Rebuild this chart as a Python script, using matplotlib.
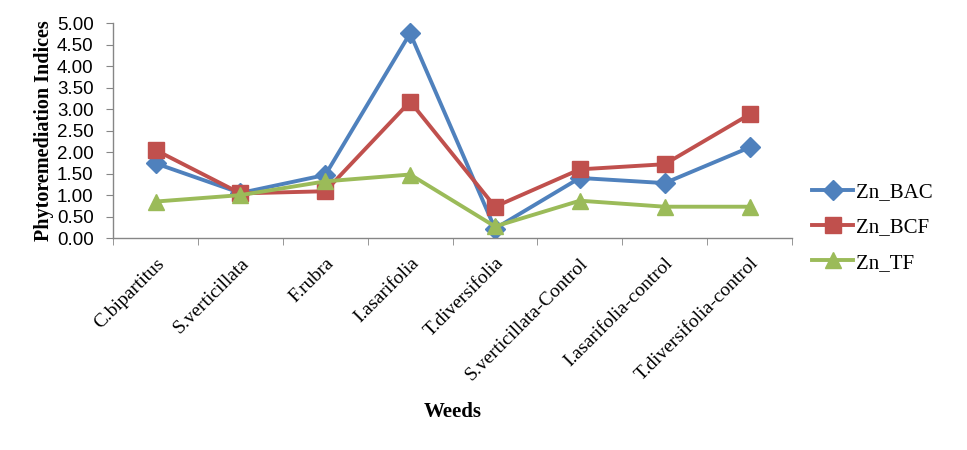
import matplotlib
matplotlib.use("Agg")
import matplotlib.pyplot as plt
from matplotlib.ticker import FixedLocator, NullFormatter
import numpy as np

categories = ["C.bipartitus", "S.verticillata", "F.rubra", "I.asarifolia",
              "T.diversifolia", "S.verticillata-Control", "I.asarifolia-control",
              "T.diversifolia-control"]
zn_bac = [1.74, 1.05, 1.47, 4.77, 0.22, 1.40, 1.28, 2.11]
zn_bcf = [2.05, 1.04, 1.09, 3.18, 0.73, 1.60, 1.72, 2.88]
zn_tf = [0.85, 1.00, 1.32, 1.48, 0.27, 0.87, 0.73, 0.73]
y_ticks = [0.0, 0.5, 1.0, 1.5, 2.0, 2.5, 3.0, 3.5, 4.0, 4.5, 5.0]

fig = plt.figure(figsize=(9.67, 4.5), dpi=100)
ax = fig.add_axes([0.117, 0.471, 0.702, 0.477])

x = np.arange(len(categories))
series = [
    ("Zn_BAC", zn_bac, "#4F81BD", "D", 10),
    ("Zn_BCF", zn_bcf, "#C0504D", "s", 11),
    ("Zn_TF", zn_tf, "#9BBB59", "^", 12),
]
for name, vals, col, mk, ms in series:
    ax.plot(x, vals, color=col, lw=2.8, marker=mk, markersize=ms,
            markerfacecolor=col, markeredgecolor=col, label=name)

ax.set_xlim(-0.5, len(categories) - 0.5)
ax.set_ylim(0, 5)
ax.set_yticks(y_ticks)
ax.set_yticklabels([f"{v:.2f}" for v in y_ticks], fontfamily="Liberation Sans", fontsize=13.5)

ax.set_xticks(x)
ax.set_xticklabels(categories, rotation=45, ha="right", rotation_mode="anchor",
                   fontfamily="Liberation Serif", fontsize=14)
ax.tick_params(axis="x", which="major", length=0, pad=12)
ax.xaxis.set_minor_locator(FixedLocator(np.arange(-0.5, len(categories), 1.0)))
ax.xaxis.set_minor_formatter(NullFormatter())
ax.tick_params(axis="x", which="minor", length=5, color="#868686", direction="out")
ax.tick_params(axis="y", length=5, color="#868686", direction="out", pad=9)

for s in ["top", "right"]:
    ax.spines[s].set_visible(False)
for s in ["left", "bottom"]:
    ax.spines[s].set_color("#868686")
    ax.spines[s].set_linewidth(1.0)

ax.set_ylabel("Phytoremediation Indices", fontfamily="Liberation Serif",
              fontweight="bold", fontsize=14.5, labelpad=2)
fig.text(0.468, 0.085, "Weeds", fontfamily="Liberation Serif", fontweight="bold",
         fontsize=15, ha="center", va="center")

leg = fig.legend(loc="center left", bbox_to_anchor=(0.820, 0.494), frameon=False,
                 prop={"family": "Liberation Serif", "size": 15},
                 handlelength=2.0, labelspacing=0.75, handletextpad=0.15)

fig.savefig("out.png", dpi=100)
